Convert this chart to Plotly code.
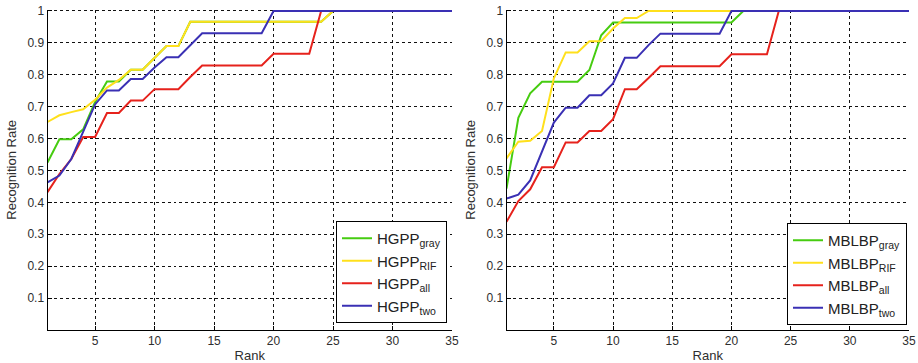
import plotly.graph_objects as go

rank = list(range(1, 36))

hgpp_gray = [0.525, 0.598, 0.598, 0.629, 0.715, 0.779, 0.779, 0.816, 0.816, 0.852,
             0.890, 0.890, 0.966, 0.966, 0.966, 0.966, 0.966, 0.966, 0.966, 0.966,
             0.966, 0.966, 0.966, 0.966, 1.0, 1.0, 1.0, 1.0, 1.0, 1.0,
             1.0, 1.0, 1.0, 1.0, 1.0]
hgpp_rif = [0.652, 0.673, 0.683, 0.692, 0.722, 0.760, 0.784, 0.816, 0.816, 0.852,
            0.890, 0.890, 0.966, 0.966, 0.966, 0.966, 0.966, 0.966, 0.966, 0.966,
            0.966, 0.966, 0.966, 0.966, 1.0, 1.0, 1.0, 1.0, 1.0, 1.0,
            1.0, 1.0, 1.0, 1.0, 1.0]
hgpp_all = [0.432, 0.489, 0.536, 0.605, 0.605, 0.680, 0.680, 0.719, 0.719, 0.755,
            0.755, 0.755, 0.793, 0.829, 0.829, 0.829, 0.829, 0.829, 0.829, 0.866,
            0.866, 0.866, 0.866, 1.0, 1.0, 1.0, 1.0, 1.0, 1.0, 1.0,
            1.0, 1.0, 1.0, 1.0, 1.0]
hgpp_two = [0.463, 0.484, 0.536, 0.619, 0.707, 0.751, 0.751, 0.787, 0.787, 0.823,
            0.855, 0.855, 0.893, 0.930, 0.930, 0.930, 0.930, 0.930, 0.930, 1.0,
            1.0, 1.0, 1.0, 1.0, 1.0, 1.0, 1.0, 1.0, 1.0, 1.0,
            1.0, 1.0, 1.0, 1.0, 1.0]

mblbp_gray = [0.443, 0.665, 0.742, 0.778, 0.778, 0.778, 0.778, 0.815, 0.924, 0.964,
              0.964, 0.964, 0.964, 0.964, 0.964, 0.964, 0.964, 0.964, 0.964, 0.964,
              1.0, 1.0, 1.0, 1.0, 1.0, 1.0, 1.0, 1.0, 1.0, 1.0,
              1.0, 1.0, 1.0, 1.0, 1.0]
mblbp_rif = [0.538, 0.590, 0.593, 0.624, 0.789, 0.870, 0.870, 0.905, 0.905, 0.945,
             0.978, 0.978, 1.0, 1.0, 1.0, 1.0, 1.0, 1.0, 1.0, 1.0,
             1.0, 1.0, 1.0, 1.0, 1.0, 1.0, 1.0, 1.0, 1.0, 1.0,
             1.0, 1.0, 1.0, 1.0, 1.0]
mblbp_all = [0.339, 0.404, 0.441, 0.510, 0.510, 0.588, 0.588, 0.624, 0.624, 0.661,
             0.755, 0.755, 0.790, 0.827, 0.827, 0.827, 0.827, 0.827, 0.827, 0.864,
             0.864, 0.864, 0.864, 1.0, 1.0, 1.0, 1.0, 1.0, 1.0, 1.0,
             1.0, 1.0, 1.0, 1.0, 1.0]
mblbp_two = [0.412, 0.424, 0.469, 0.560, 0.650, 0.697, 0.697, 0.736, 0.736, 0.773,
             0.853, 0.853, 0.893, 0.929, 0.929, 0.929, 0.929, 0.929, 0.929, 1.0,
             1.0, 1.0, 1.0, 1.0, 1.0, 1.0, 1.0, 1.0, 1.0, 1.0,
             1.0, 1.0, 1.0, 1.0, 1.0]

x_ticks = [5, 10, 15, 20, 25, 30, 35]
y_ticks = [0.1, 0.2, 0.3, 0.4, 0.5, 0.6, 0.7, 0.8, 0.9, 1.0]
y_ticktext = ["0.1", "0.2", "0.3", "0.4", "0.5", "0.6", "0.7", "0.8", "0.9", "1"]

colors = {"gray": "#46cc10", "rif": "#ffe01c", "all": "#e6221c", "two": "#3a30b4"}

W, H = 918, 363
ml, mr, mt, mb = 47, 9, 9, 33
pw, ph = W - ml - mr, H - mt - mb


def px_x(p):
    return (p - ml) / pw


def px_y(p):
    return (H - mb - p) / ph


fig = go.Figure()

left = [("HGPP<sub>gray</sub>", hgpp_gray, "gray"),
        ("HGPP<sub>RIF</sub>", hgpp_rif, "rif"),
        ("HGPP<sub>all</sub>", hgpp_all, "all"),
        ("HGPP<sub>two</sub>", hgpp_two, "two")]
right = [("MBLBP<sub>gray</sub>", mblbp_gray, "gray"),
         ("MBLBP<sub>RIF</sub>", mblbp_rif, "rif"),
         ("MBLBP<sub>all</sub>", mblbp_all, "all"),
         ("MBLBP<sub>two</sub>", mblbp_two, "two")]

for name, vals, c in left:
    fig.add_trace(go.Scatter(x=rank, y=vals, mode="lines", name=name,
                             line=dict(color=colors[c], width=2),
                             xaxis="x", yaxis="y", legend="legend"))
for name, vals, c in right:
    fig.add_trace(go.Scatter(x=rank, y=vals, mode="lines", name=name,
                             line=dict(color=colors[c], width=2),
                             xaxis="x2", yaxis="y2", legend="legend2"))

font = "Liberation Sans, Arial, sans-serif"
txt = "#2e2e2e"
axis_common = dict(showline=True, linecolor="black", linewidth=1, mirror=False,
                   showgrid=True, gridcolor="#111", griddash="dot", gridwidth=1,
                   zeroline=False, ticks="inside", ticklen=4, tickcolor="black",
                   automargin=False,
                   tickfont=dict(family=font, size=12, color=txt))

ydom = [px_y(330), px_y(9.7)]
xdom1 = [px_x(47.5), px_x(452)]
xdom2 = [px_x(506.5), px_x(909)]

title_font = dict(size=13, family=font, color=txt)

fig.update_layout(
    width=W, height=H,
    margin=dict(l=ml, r=mr, t=mt, b=mb, autoexpand=False),
    plot_bgcolor="white", paper_bgcolor="white",
    font=dict(family=font, color=txt),
    xaxis=dict(domain=xdom1, range=[1, 35], tickvals=x_ticks, anchor="y",
               title=dict(text="Rank", font=title_font, standoff=5),
               **axis_common),
    yaxis=dict(domain=ydom, range=[0, 1.004], tickvals=y_ticks, ticktext=y_ticktext, anchor="x",
               title=dict(text="Recognition Rate", font=title_font, standoff=7),
               **axis_common),
    xaxis2=dict(domain=xdom2, range=[1, 35], tickvals=x_ticks, anchor="y2",
                title=dict(text="Rank", font=title_font, standoff=5),
                **axis_common),
    yaxis2=dict(domain=ydom, range=[0, 1.004], tickvals=y_ticks, ticktext=y_ticktext, anchor="x2",
                title=dict(text="Recognition Rate", font=title_font, standoff=7),
                **axis_common),
    legend=dict(x=px_x(447), xanchor="right", y=px_y(323), yanchor="bottom",
                bgcolor="white", bordercolor="black", borderwidth=1,
                font=dict(family=font, size=15, color="#222"), tracegroupgap=0,
                itemwidth=30),
    legend2=dict(x=px_x(907), xanchor="right", y=px_y(325), yanchor="bottom",
                 bgcolor="white", bordercolor="black", borderwidth=1,
                 font=dict(family=font, size=15, color="#222"), tracegroupgap=0,
                 itemwidth=30),
    showlegend=True,
)

fig.write_html("out.html", config={"displayModeBar": False},
               post_script="document.body.style.margin='0px';document.body.style.padding='0px';")
